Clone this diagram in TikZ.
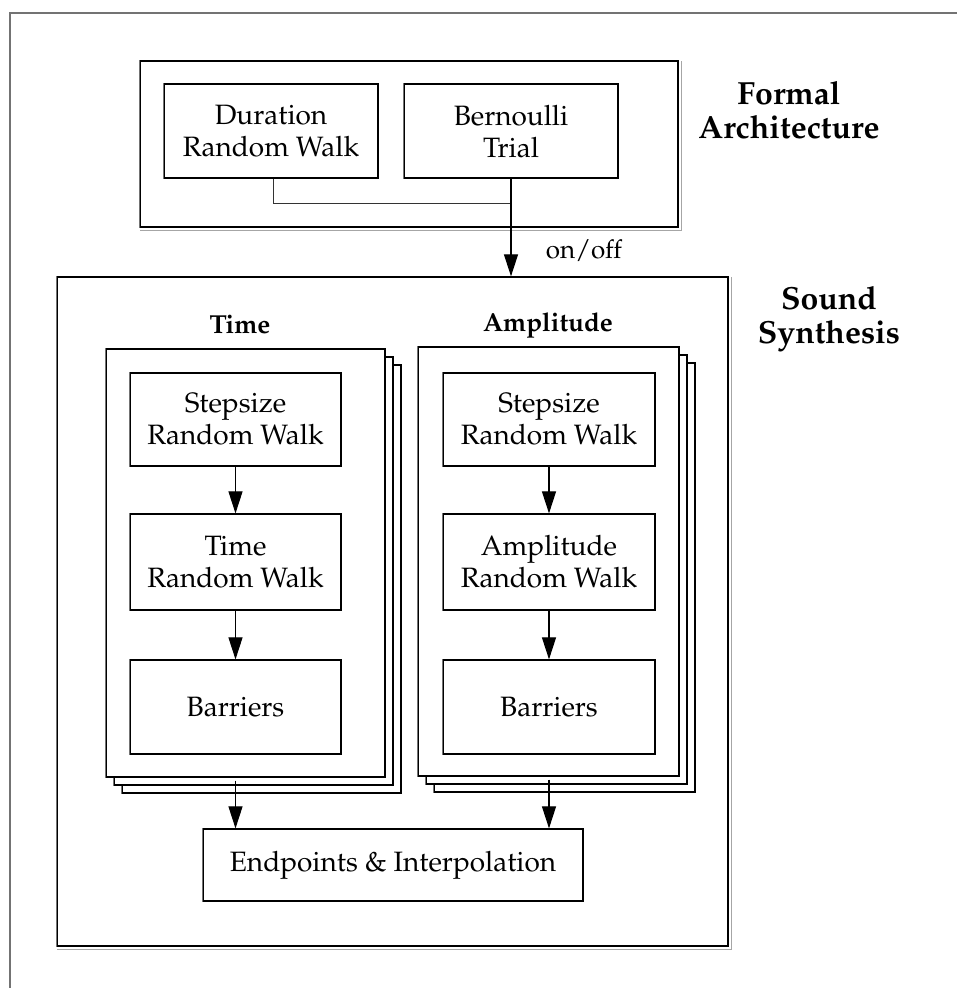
\documentclass[tikz,border=0pt]{standalone}
\usepackage[T1]{fontenc}
\usepackage{mathpazo}
\usetikzlibrary{arrows.meta,positioning}
\tikzset{
  box/.style={draw=black, line width=1.2pt, fill=white, inner sep=0pt, align=center,
    font=\fontsize{28}{32}\selectfont},
  stackbox/.style={draw=black, line width=1.2pt, fill=white, inner sep=0pt},
  outerbox/.style={draw=black, line width=1.3pt, inner sep=0pt},
  shadowline/.style={draw=gray!70, line width=1.3pt},
  leftedge/.style={draw=gray!90!black, line width=1.3pt},
  conn/.style={draw=black!80, line width=1pt},
  arr/.style={draw=black, line width=1.1pt, -{Triangle[width=14pt,length=22pt]}},
  biglabel/.style={font=\fontsize{32}{34}\selectfont\bfseries, align=center},
  headlabel/.style={font=\fontsize{26}{30}\selectfont\bfseries},
  smalllabel/.style={font=\fontsize{26}{30}\selectfont}
}
\newcommand{\grayleft}[1]{\draw[leftedge] (#1.south west) -- (#1.north west);}
\begin{document}
\begin{tikzpicture}[x=1pt,y=-1pt]
\useasboundingbox (0,0) rectangle (957,988);
% page frame
\draw[draw=gray!90!black, line width=2pt] (957,13) -- (10,13) -- (10,988);

% Formal architecture box
\node[outerbox, minimum width=538pt, minimum height=166pt] (formal) at (409,144) {};
\draw[shadowline] ([shift={(1,2.5)}]formal.south west) -- ([shift={(2.5,2.5)}]formal.south east) -- ([shift={(2.5,1)}]formal.north east);
\grayleft{formal}
\node[box, minimum width=214pt, minimum height=94pt] (dur) at (271,131) {Duration\\Random Walk};
\grayleft{dur}
\node[box, minimum width=214pt, minimum height=94pt] (ber) at (511,131) {Bernoulli\\Trial};
\grayleft{ber}
\node[biglabel] (formallbl) at (789,110) {Formal\\Architecture};

% Sound synthesis box
\node[outerbox, minimum width=671pt, minimum height=669pt] (sound) at (392.5,611.5) {};
\draw[shadowline] ([shift={(1,2.5)}]sound.south west) -- ([shift={(2.5,2.5)}]sound.south east) -- ([shift={(2.5,1)}]sound.north east);
\grayleft{sound}
\node[biglabel] (soundlbl) at (829,319) {Sound\\Synthesis};

% connectors of formal architecture
\coordinate (junc) at ([yshift=-25pt]ber.south);
\draw[conn] ([xshift=2pt]dur.south) |- (junc);
\draw[arr] (ber.south) -- (ber.south |- sound.north);
\node[smalllabel] (onoff) at (584,251) {on/off};

% Time stack
\node[stackbox, minimum width=279pt, minimum height=428pt] (t3) at (261.5,579) {};
\grayleft{t3}
\node[stackbox, minimum width=279pt, minimum height=428pt] (t2) at (253.5,571) {};
\grayleft{t2}
\node[stackbox, minimum width=279pt, minimum height=428pt] (t1) at (245.5,563) {};
\grayleft{t1}
\node[headlabel] (timelbl) at (240,325) {Time};
\node[box, minimum width=211pt, minimum height=93pt] (ts) at (235.5,419.5) {Stepsize\\Random Walk};
\grayleft{ts}
\node[box, minimum width=211pt, minimum height=96pt] (tr) at (235.5,562) {Time\\Random Walk};
\grayleft{tr}
\node[box, minimum width=211pt, minimum height=94pt] (tb) at (235.5,707) {Barriers};
\grayleft{tb}

% Amplitude stack
\node[stackbox, minimum width=261pt, minimum height=429pt] (a3) at (564.5,577.5) {};
\grayleft{a3}
\node[stackbox, minimum width=261pt, minimum height=429pt] (a2) at (556.5,569.5) {};
\grayleft{a2}
\node[stackbox, minimum width=261pt, minimum height=429pt] (a1) at (548.5,561.5) {};
\grayleft{a1}
\node[headlabel] (amplbl) at (548,325) {Amplitude};
\node[box, minimum width=212pt, minimum height=93pt] (as) at (549,419.5) {Stepsize\\Random Walk};
\grayleft{as}
\node[box, minimum width=212pt, minimum height=96pt] (ar) at (549,562) {Amplitude\\Random Walk};
\grayleft{ar}
\node[box, minimum width=212pt, minimum height=94pt] (ab) at (549,707) {Barriers};
\grayleft{ab}

% Endpoints
\node[box, minimum width=380pt, minimum height=72pt] (ep) at (393,865) {Endpoints \& Interpolation};
\grayleft{ep}

% arrows
\draw[arr] (ts.south) -- (tr.north);
\draw[arr] (tr.south) -- (tb.north);
\draw[arr] (as.south) -- (ar.north);
\draw[arr] (ar.south) -- (ab.north);
\draw[arr] ([yshift=-3pt]t1.south -| ts.south) -- (ep.north -| ts.south);
\draw[arr] ([yshift=-3pt]a1.south -| as.south) -- (ep.north -| as.south);
\end{tikzpicture}
\end{document}
